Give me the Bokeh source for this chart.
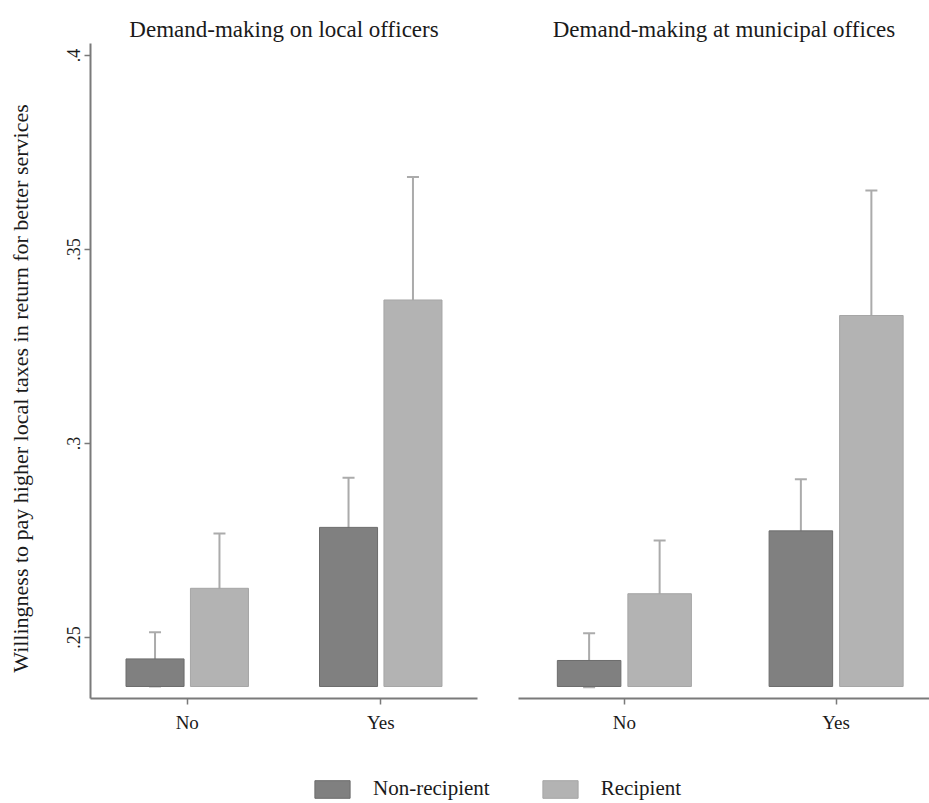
import math
from bokeh.plotting import figure
from bokeh.layouts import row, column
from bokeh.models import (ColumnDataSource, Range1d, FixedTicker, Whisker, TeeHead,
                          Legend, LegendItem, Label)
from bokeh.embed import file_html
from bokeh.resources import INLINE

# ---------------- data ----------------
categories = ["No", "Yes"]
panel_titles = ["Demand-making on local officers", "Demand-making at municipal offices"]
series = ["Non-recipient", "Recipient"]
y_label = "Willingness to pay higher local taxes in return for better services"

nonrecip_local = [0.2445, 0.2784]
nonrecip_local_lo = [0.2374, 0.2655]
nonrecip_local_hi = [0.2514, 0.2912]
recip_local = [0.2627, 0.3370]
recip_local_lo = [0.2488, 0.3055]
recip_local_hi = [0.2768, 0.3687]

nonrecip_muni = [0.2441, 0.2775]
nonrecip_muni_lo = [0.2372, 0.2643]
nonrecip_muni_hi = [0.2511, 0.2908]
recip_muni = [0.2613, 0.3330]
recip_muni_lo = [0.2477, 0.3010]
recip_muni_hi = [0.2750, 0.3652]

y_ticks = [0.25, 0.30, 0.35, 0.40]
y_tick_labels = [".25", ".3", ".35", ".4"]

# ---------------- style ----------------
FONT = "Liberation Serif"
COL_NON = "#808080"
EDGE_NON = "#6c6c6c"
COL_REC = "#b3b3b3"
EDGE_REC = "#a6a6a6"
ERR_COL = "#ababab"
AXIS_COL = "#7a7a7a"
TXT_COL = "#1a1a1a"
BAR_BASE = 0.2374
BAR_W = 0.30
OFFSET = 0.1665
TOP_H = 765

yr = Range1d(0.2343, 0.4031)


def make_panel(title, vals_non, lo_non, hi_non, vals_rec, lo_rec, hi_rec,
               x_end, left, frame_w, mb_left, mb_right, title_offset):
    p = figure(output_backend="svg", toolbar_location=None,
               frame_width=frame_w, frame_height=655,
               min_border_left=mb_left, min_border_right=mb_right,
               min_border_top=43, min_border_bottom=67,
               x_range=Range1d(-0.5, x_end), y_range=yr,
               y_axis_location="left" if left else None)
    p.title.text = title
    p.title.align = "center"
    p.title.text_font = FONT
    p.title.text_font_size = "23px"
    p.title.text_font_style = "normal"
    p.title.text_color = TXT_COL
    p.title.standoff = 4
    p.title.offset = title_offset

    idx = list(range(len(categories)))
    src_non = ColumnDataSource(dict(x=[i - OFFSET for i in idx], top=vals_non,
                                    lo=lo_non, hi=hi_non))
    src_rec = ColumnDataSource(dict(x=[i + OFFSET for i in idx], top=vals_rec,
                                    lo=lo_rec, hi=hi_rec))
    p.vbar(x="x", top="top", bottom=BAR_BASE, width=BAR_W, source=src_non,
           fill_color=COL_NON, line_color=EDGE_NON, line_width=1)
    p.vbar(x="x", top="top", bottom=BAR_BASE, width=BAR_W, source=src_rec,
           fill_color=COL_REC, line_color=EDGE_REC, line_width=1)
    for src in (src_non, src_rec):
        w = Whisker(base="x", lower="lo", upper="hi", source=src,
                    line_color=ERR_COL, line_width=2,
                    upper_head=TeeHead(size=12, line_color=ERR_COL, line_width=2),
                    lower_head=TeeHead(size=12, line_color=ERR_COL, line_width=2))
        p.add_layout(w)

    p.xgrid.visible = False
    p.ygrid.visible = False
    p.outline_line_color = None
    p.background_fill_color = "white"

    xa = p.xaxis[0]
    xa.ticker = FixedTicker(ticks=idx)
    xa.major_label_overrides = {i: c for i, c in zip(idx, categories)}
    xa.minor_tick_line_color = None
    xa.axis_line_color = AXIS_COL
    xa.axis_line_width = 2
    xa.major_tick_line_color = AXIS_COL
    xa.major_tick_line_width = 1.5
    xa.major_tick_in = 0
    xa.major_tick_out = 6
    xa.major_label_standoff = 7
    xa.major_label_text_font = FONT
    xa.major_label_text_font_size = "19px"
    xa.major_label_text_color = TXT_COL

    if left:
        ya = p.yaxis[0]
        ya.ticker = FixedTicker(ticks=y_ticks)
        ya.major_label_overrides = {t: l for t, l in zip(y_ticks, y_tick_labels)}
        ya.major_label_orientation = "vertical"
        ya.minor_tick_line_color = None
        ya.axis_line_color = AXIS_COL
        ya.axis_line_width = 2
        ya.major_tick_line_color = AXIS_COL
        ya.major_tick_line_width = 1.5
        ya.major_tick_in = 0
        ya.major_tick_out = 6
        ya.major_label_standoff = 4
        ya.major_label_text_font = FONT
        ya.major_label_text_font_size = "18px"
        ya.major_label_text_color = TXT_COL
    return p


# narrow strip holding the y-axis title (its frame is aligned with the panels)
plab = figure(output_backend="svg", toolbar_location=None, width=40, height=TOP_H,
              min_border=0, x_range=Range1d(0, 1), y_range=Range1d(0, 1),
              x_axis_location=None, y_axis_location=None)
plab.outline_line_color = None
plab.xgrid.visible = False
plab.ygrid.visible = False
plab.add_layout(Label(text=y_label, x=20, y=310, x_units="screen",
                      y_units="screen", angle=math.pi / 2, text_align="center",
                      text_baseline="middle", text_font=FONT,
                      text_font_size="22px", text_color=TXT_COL))

p1 = make_panel(panel_titles[0], nonrecip_local, nonrecip_local_lo, nonrecip_local_hi,
                recip_local, recip_local_lo, recip_local_hi,
                x_end=1.5, left=True, frame_w=387, mb_left=50, mb_right=20,
                title_offset=0)
p2 = make_panel(panel_titles[1], nonrecip_muni, nonrecip_muni_lo, nonrecip_muni_hi,
                recip_muni, recip_muni_lo, recip_muni_hi,
                x_end=1.441, left=False, frame_w=411, mb_left=21, mb_right=0,
                title_offset=6)

# legend strip
pl = figure(output_backend="svg", toolbar_location=None, width=929, height=38,
            min_border=0, x_range=Range1d(0, 1), y_range=Range1d(0, 1),
            x_axis_location=None, y_axis_location=None)
pl.outline_line_color = None
pl.xgrid.visible = False
pl.ygrid.visible = False
off_src = ColumnDataSource(dict(x=[-5.0], top=[-5.0]))
r_non = pl.vbar(x="x", top="top", bottom=-6.0, width=0.1, source=off_src,
                fill_color=COL_NON, line_color=EDGE_NON, line_width=1)
r_rec = pl.vbar(x="x", top="top", bottom=-6.0, width=0.1, source=off_src,
                fill_color=COL_REC, line_color=EDGE_REC, line_width=1)
leg = Legend(items=[LegendItem(label=series[0], renderers=[r_non]),
                    LegendItem(label=series[1], renderers=[r_rec])],
             orientation="horizontal", location=(310, 2),
             glyph_width=44, glyph_height=22, label_height=22,
             label_standoff=19, spacing=48, padding=0, margin=0,
             border_line_color=None, background_fill_alpha=0,
             label_text_font=FONT, label_text_font_size="21px",
             label_text_color=TXT_COL)
pl.add_layout(leg, "center")

layout = column(row(plab, p1, p2, spacing=0), pl, spacing=0)

with open("out.html", "w") as f:
    f.write(file_html(layout, INLINE))
